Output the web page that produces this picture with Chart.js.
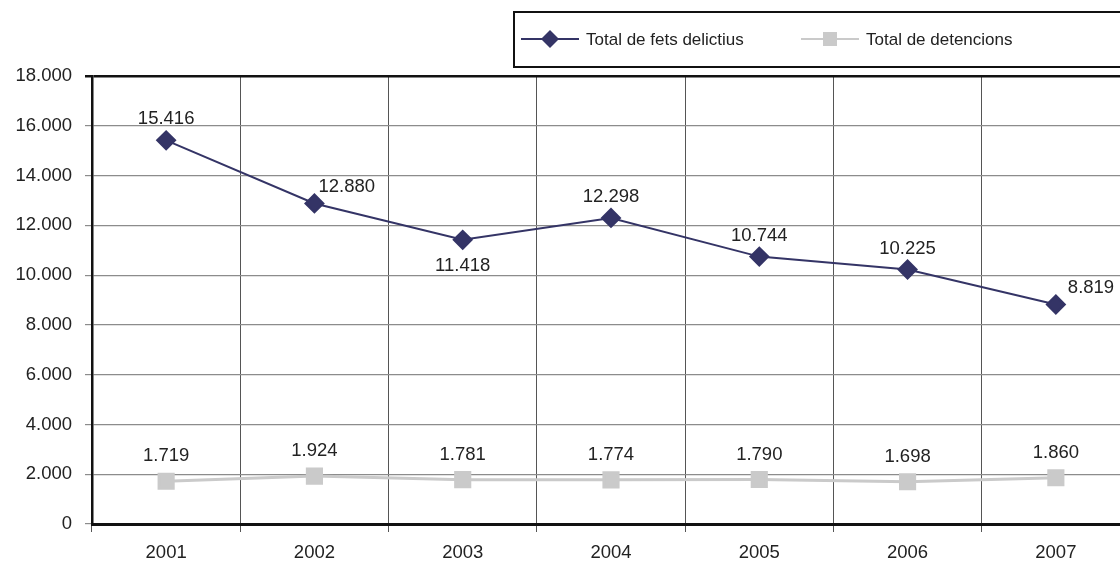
<!DOCTYPE html>
<html>
<head>
    <meta charset="UTF-8">
    <title>Fets delictius i detencions</title>
    <script src="https://cdn.jsdelivr.net/npm/chart.js"></script>
    <style>
        html, body { margin: 0; background: #fff; overflow: hidden; }
        /* plot runs a little past the right edge of the window, as in the original */
        #wrap { width: 1130px; height: 565px; position: relative; }
    </style>
</head>
<body>
<div id="wrap"><canvas id="chart"></canvas></div>
<script>
    const years = ["2001", "2002", "2003", "2004", "2005", "2006", "2007"];
    const fetsDelictius = [15416, 12880, 11418, 12298, 10744, 10225, 8819];
    const detencions = [1719, 1924, 1781, 1774, 1790, 1698, 1860];
    const seriesNames = ["Total de fets delictius", "Total de detencions"];
    // where each value label sits relative to its point
    const fetsLabelPlace = ["top", "topRight", "bottom", "top", "top", "top", "topRight"];
    const detencionsLabelPlace = ["top", "top", "top", "top", "top", "top", "top"];

    const FONT = "'Liberation Sans', Arial, sans-serif";

    function fmt(v) {
        return String(v).replace(/\B(?=(\d{3})+(?!\d))/g, ".");
    }

    const valueLabels = {
        id: "valueLabels",
        afterDatasetsDraw(chart) {
            const ctx = chart.ctx;
            ctx.save();
            ctx.font = "18.5px " + FONT;
            ctx.fillStyle = "#222";
            ctx.textBaseline = "middle";
            chart.data.datasets.forEach((ds, i) => {
                const meta = chart.getDatasetMeta(i);
                meta.data.forEach((pt, j) => {
                    const place = ds.labelPlace[j];
                    let x = pt.x, y = pt.y;
                    ctx.textAlign = "center";
                    if (place === "top") y -= (i === 0 ? 21 : 25);
                    else if (place === "bottom") y += 26;
                    else if (place === "topRight") { x += 4; y -= 17; ctx.textAlign = "left"; }
                    if (place === "topRight" && j === ds.data.length - 1) x += 8;
                    ctx.fillText(fmt(ds.data[j]), x, y);
                });
            });
            ctx.restore();
        }
    };

    const boxLegend = {
        id: "boxLegend",
        afterDraw(chart) {
            const ctx = chart.ctx;
            ctx.save();
            ctx.strokeStyle = "#111";
            ctx.lineWidth = 2;
            ctx.strokeRect(514, 12, 640, 55);
            ctx.font = "17px " + FONT;
            ctx.textBaseline = "middle";
            ctx.textAlign = "left";
            const starts = [521, 801];
            chart.data.datasets.forEach((ds, i) => {
                const x0 = starts[i], y = 39;
                ctx.strokeStyle = ds.borderColor;
                ctx.lineWidth = 2;
                ctx.beginPath();
                ctx.moveTo(x0, y);
                ctx.lineTo(x0 + 58, y);
                ctx.stroke();
                ctx.fillStyle = ds.backgroundColor;
                const cx = x0 + 29;
                if (ds.pointStyle === "rectRot") {
                    ctx.beginPath();
                    ctx.moveTo(cx, y - 9);
                    ctx.lineTo(cx + 9, y);
                    ctx.lineTo(cx, y + 9);
                    ctx.lineTo(cx - 9, y);
                    ctx.closePath();
                    ctx.fill();
                } else {
                    ctx.fillRect(cx - 7, y - 7, 14, 14);
                }
                ctx.fillStyle = "#222";
                ctx.fillText(ds.label, x0 + 65, y + 1);
            });
            ctx.restore();
        }
    };

    new Chart(document.getElementById("chart"), {
        type: "line",
        data: {
            labels: years,
            datasets: [{
                label: seriesNames[0],
                data: fetsDelictius,
                labelPlace: fetsLabelPlace,
                borderColor: "#343466",
                backgroundColor: "#343466",
                borderWidth: 2,
                pointStyle: "rectRot",
                pointRadius: 9,
                pointHoverRadius: 9,
                tension: 0
            }, {
                label: seriesNames[1],
                data: detencions,
                labelPlace: detencionsLabelPlace,
                borderColor: "#cacaca",
                backgroundColor: "#cacaca",
                borderWidth: 3,
                pointStyle: "rect",
                pointRadius: 10,
                pointHoverRadius: 10,
                tension: 0
            }]
        },
        options: {
            responsive: true,
            maintainAspectRatio: false,
            animation: false,
            layout: { autoPadding: false, padding: { top: 76, right: 0, left: 0, bottom: 0 } },
            plugins: {
                legend: { display: false },
                tooltip: { enabled: false }
            },
            scales: {
                x: {
                    offset: true,
                    grid: {
                        offset: true,
                        color: "#555",
                        lineWidth: 1,
                        tickLength: 8
                    },
                    border: { color: "#111", width: 3 },
                    ticks: {
                        color: "#222",
                        font: { family: FONT, size: 18.5 },
                        padding: 10,
                        maxRotation: 0
                    },
                    afterFit(scale) {
                        scale.height = 41;
                        scale.paddingLeft = 0;
                        scale.paddingRight = 0;
                    }
                },
                y: {
                    min: 0,
                    max: 18000,
                    ticks: {
                        stepSize: 2000,
                        color: "#222",
                        font: { family: FONT, size: 18.5 },
                        padding: 13,
                        callback: v => fmt(v)
                    },
                    grid: {
                        color: ctx => ctx.tick && ctx.tick.value === 18000 ? "#111" : "#8c8c8c",
                        lineWidth: ctx => ctx.tick && ctx.tick.value === 18000 ? 2.5 : 1.2,
                        tickLength: 7
                    },
                    border: { color: "#111", width: 2.5 },
                    afterFit(scale) {
                        scale.width = 92;
                        scale.paddingTop = 0;
                        scale.paddingBottom = 0;
                    }
                }
            }
        },
        plugins: [valueLabels, boxLegend]
    });
</script>
</body>
</html>
